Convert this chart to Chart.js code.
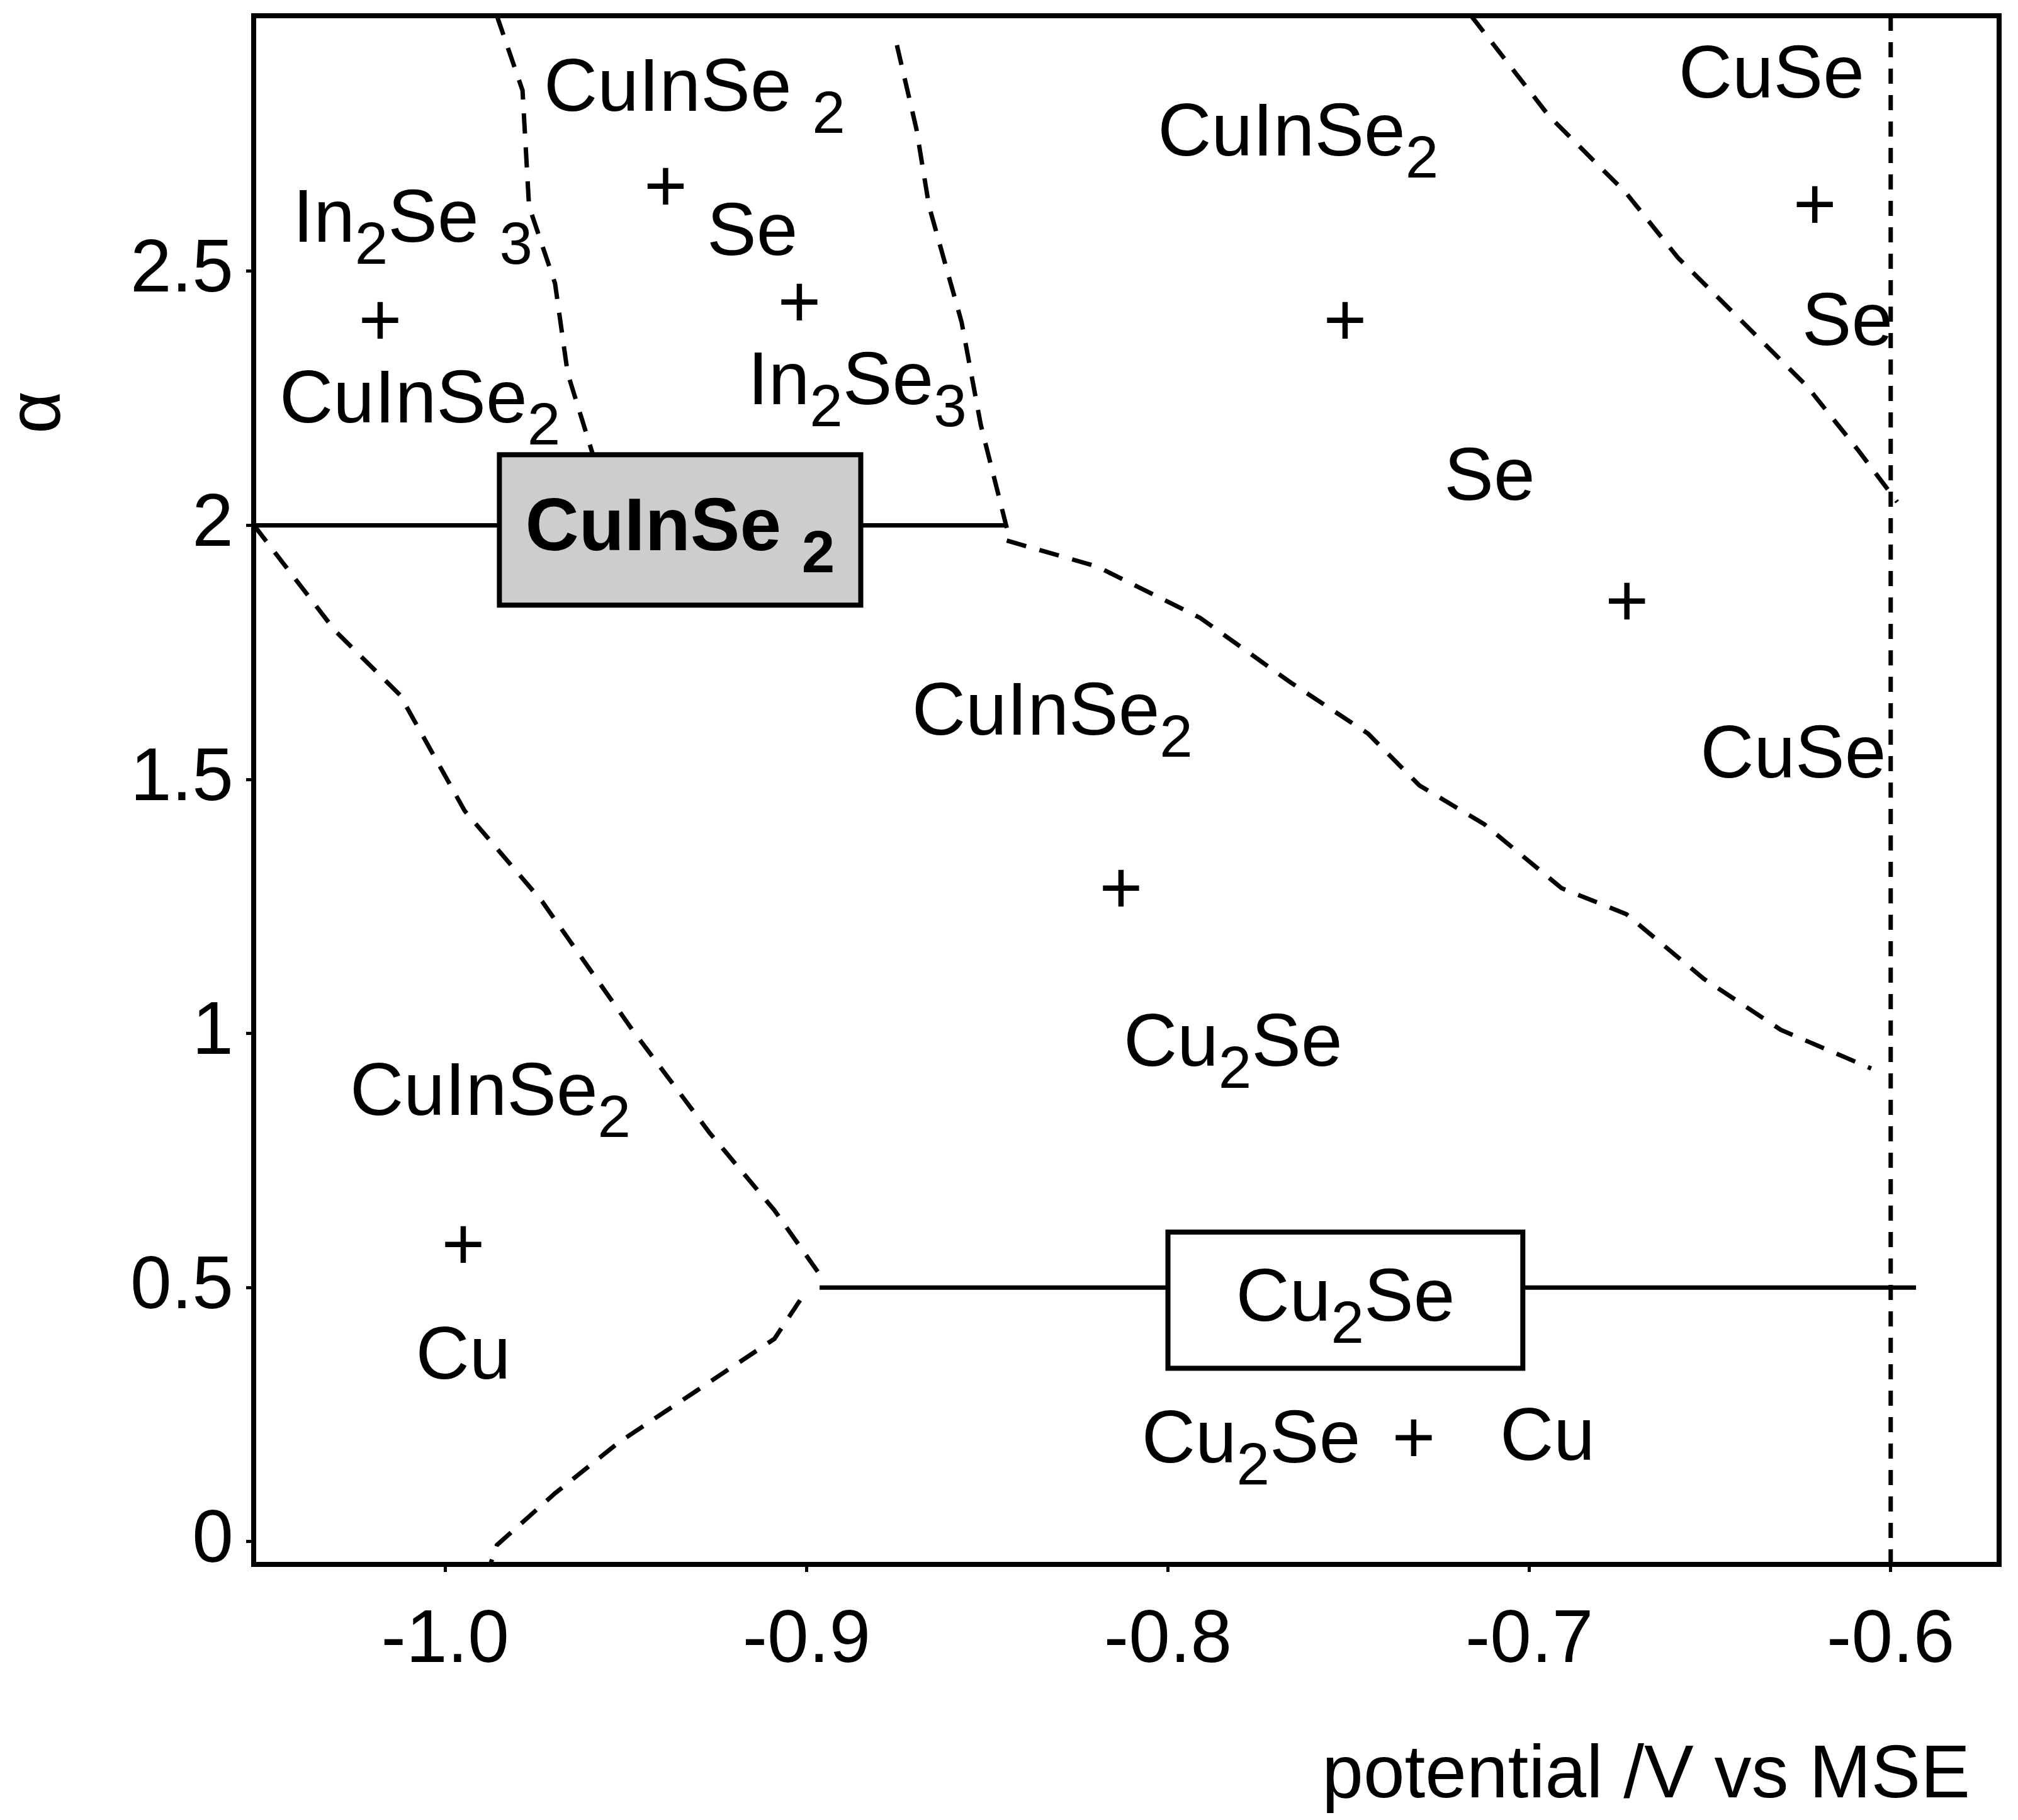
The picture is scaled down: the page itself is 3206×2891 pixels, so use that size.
<!DOCTYPE html>
<html><head><meta charset="utf-8">
<script src="https://cdn.jsdelivr.net/npm/chart.js@4/dist/chart.umd.min.js"></script>
<style>html,body{margin:0;padding:0;background:#fff}#w{width:3206px;height:2891px}</style>
</head><body><div id="w"><canvas id="c"></canvas></div>
<script>
const xTicks = [-1.0, -0.9, -0.8, -0.7, -0.6];
const yTicks = [0, 0.5, 1, 1.5, 2, 2.5];
const boundaryTopLeft = [[-0.9857,3.003],[-0.9786,2.856],[-0.9768,2.628],[-0.9696,2.476],[-0.9661,2.299],[-0.9589,2.134]];
const boundaryTopMid = [[-0.875,2.945],[-0.8696,2.780],[-0.8661,2.628],[-0.8571,2.400],[-0.8518,2.198],[-0.8446,1.995]];
const boundaryTopRight = [[-0.7161,3.003],[-0.6946,2.806],[-0.6732,2.654],[-0.6589,2.527],[-0.6446,2.426],[-0.6232,2.274],[-0.6089,2.147],[-0.5982,2.046]];
const boundaryVertical = [[-0.6,3.003],[-0.6,-0.045]];
const boundaryMiddle = [[-0.8446,1.970],[-0.8196,1.919],[-0.7911,1.818],[-0.7661,1.691],[-0.7446,1.590],[-0.7304,1.488],[-0.7125,1.412],[-0.6911,1.286],[-0.6732,1.235],[-0.6518,1.108],[-0.6304,1.007],[-0.6054,0.931]];
const boundaryLowerLeft = [[-1.0529,2.0],[-1.0304,1.792],[-1.0125,1.666],[-0.9946,1.438],[-0.9732,1.260],[-0.9482,1.007],[-0.9268,0.804],[-0.9089,0.652],[-0.8964,0.526]];
const boundaryBottom = [[-0.9018,0.475],[-0.9089,0.399],[-0.9304,0.297],[-0.9518,0.196],[-0.9696,0.095],[-0.9857,-0.007],[-0.9875,-0.045]];
const solidAlpha2 = [[-1.053,2],[-0.8446,2]];
const solidAlpha05 = [[-0.8964,0.5],[-0.593,0.5]];
const boxes = [
  {x0:-0.985,x1:-0.885,y0:1.843,y1:2.139,fill:'#cdcdcd',text:'CuInSe 2',bold:true},
  {x0:-0.8,x1:-0.7018,y0:0.341,y1:0.609,fill:'#ffffff',text:'Cu2Se',bold:false}
];
const labels = [
  ['CuInSe 2',-0.931,2.856],['+',-0.939,2.659],['Se',-0.915,2.573],['+',-0.902,2.431],['In2Se3',-0.886,2.279],
  ['In2Se 3',-1.009,2.598],['+',-1.018,2.395],['CuInSe2',-1.007,2.243],
  ['CuInSe2',-0.764,2.768],['+',-0.751,2.395],['Se',-0.711,2.091],['+',-0.673,1.843],['CuSe',-0.627,1.544],
  ['CuSe',-0.633,2.882],['+',-0.621,2.623],['Se',-0.612,2.395],
  ['CuInSe2',-0.832,1.628],['+',-0.813,1.278],['Cu2Se',-0.782,0.976],
  ['CuInSe2',-0.9875,0.880],['+',-0.995,0.576],['Cu',-0.995,0.361],
  ['Cu2Se',-0.777,0.196],['+',-0.732,0.196],['Cu',-0.695,0.201]
];
const FONT = '"Liberation Sans", Arial, sans-serif';
const FS = 118;

function pts(a){return a.map(p=>({x:p[0],y:p[1]}));}
function ds(a,dash){return {data:pts(a),borderColor:'#000',borderWidth:7,borderDash:dash,pointRadius:0,fill:false,tension:0,showLine:true};}

function drawFormula(ctx,str,cx,cy,bold){
  const w = bold?'bold ':'';
  const parts=[];
  for(const ch of str){parts.push([ch,/[0-9]/.test(ch)]);}
  let total=0;
  parts.forEach(([ch,sub])=>{ctx.font=w+(sub?FS*0.8:FS)+'px '+FONT;total+=ctx.measureText(ch).width;});
  let x=cx-total/2;
  ctx.textBaseline='middle';ctx.textAlign='left';ctx.fillStyle='#000';
  parts.forEach(([ch,sub])=>{ctx.font=w+(sub?FS*0.8:FS)+'px '+FONT;ctx.fillText(ch,x,cy+(sub?FS*0.35:0));x+=ctx.measureText(ch).width;});
}

const deco = {
  id:'deco',
  afterDatasetsDraw(chart){
    const {ctx,chartArea:a,scales:{x,y}}=chart;
    ctx.save();
    boxes.forEach(b=>{
      const l=x.getPixelForValue(b.x0),r=x.getPixelForValue(b.x1),t=y.getPixelForValue(b.y1),bt=y.getPixelForValue(b.y0);
      ctx.fillStyle=b.fill;ctx.fillRect(l,t,r-l,bt-t);
      ctx.lineWidth=8;ctx.strokeStyle='#000';ctx.strokeRect(l,t,r-l,bt-t);
      drawFormula(ctx,b.text,(l+r)/2,(t+bt)/2,b.bold);
    });
    labels.forEach(([s,vx,vy])=>drawFormula(ctx,s,x.getPixelForValue(vx),y.getPixelForValue(vy),false));
    ctx.lineWidth=8;ctx.strokeStyle='#000';ctx.strokeRect(a.left,a.top,a.right-a.left,a.bottom-a.top);
    ctx.fillStyle='#000';
    ctx.font=FS+'px '+FONT;ctx.textAlign='right';ctx.textBaseline='middle';
    ctx.fillText('potential /V vs MSE',3130,2822);
    ctx.save();ctx.translate(62,655);ctx.rotate(-Math.PI/2);ctx.textAlign='center';ctx.fillText('α',0,0);ctx.restore();
    ctx.restore();
  }
};

new Chart(document.getElementById('c'),{
  type:'scatter',
  data:{datasets:[
    ds(boundaryTopLeft,[32,22]),ds(boundaryTopMid,[32,22]),ds(boundaryTopRight,[32,22]),ds(boundaryVertical,[24,18]),
    ds(boundaryMiddle,[32,22]),ds(boundaryLowerLeft,[32,22]),ds(boundaryBottom,[32,22]),
    ds(solidAlpha2,[]),ds(solidAlpha05,[])
  ]},
  options:{
    responsive:true,maintainAspectRatio:false,animation:false,
    layout:{padding:{top:25,right:30,left:0,bottom:0}},
    plugins:{legend:{display:false},tooltip:{enabled:false}},
    scales:{
      x:{type:'linear',min:-1.053,max:-0.57,
        afterBuildTicks(s){s.ticks=xTicks.map(v=>({value:v}));},
        afterFit(s){s.height=406;s.paddingLeft=0;s.paddingRight=0;},
        ticks:{callback:v=>v.toFixed(1),color:'#000',font:{family:FONT,size:FS},padding:40,maxRotation:0,autoSkip:false},
        grid:{display:true,drawOnChartArea:false,tickLength:12,color:'#000',lineWidth:5},
        border:{display:true,color:'#000',width:8}},
      y:{type:'linear',min:-0.045,max:3.003,
        afterBuildTicks(s){s.ticks=yTicks.map(v=>({value:v}));},
        afterFit(s){s.width=403;s.paddingTop=0;s.paddingBottom=0;},
        ticks:{callback:v=>String(v),color:'#000',font:{family:FONT,size:FS},padding:20,autoSkip:false},
        grid:{display:true,drawOnChartArea:false,tickLength:12,color:'#000',lineWidth:5},
        border:{display:true,color:'#000',width:8}}
    }
  },
  plugins:[deco]
});
</script></body></html>
